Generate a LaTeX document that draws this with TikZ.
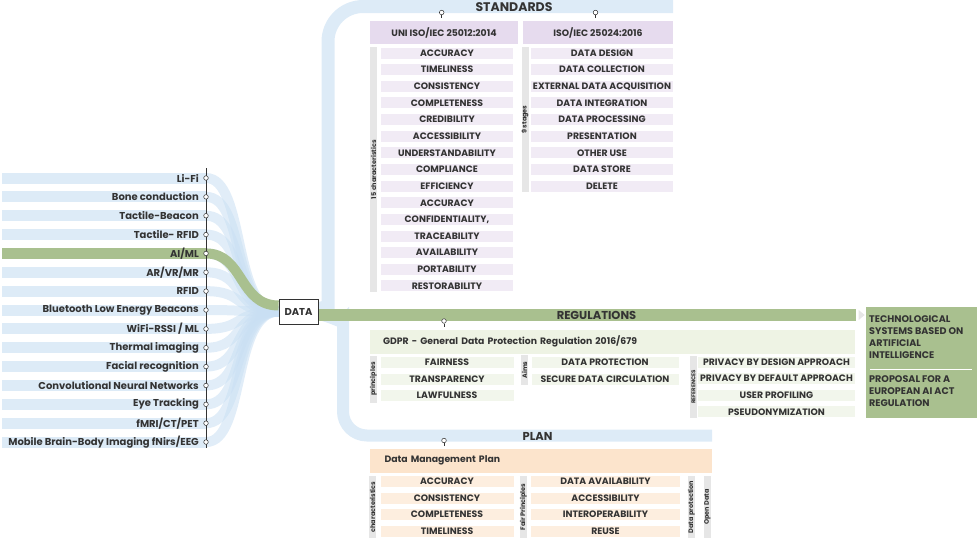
\documentclass[tikz,border=0pt]{standalone}
\usepackage{fontspec}
\setsansfont{Poppins}
\usetikzlibrary{positioning, calc, shapes.geometric, backgrounds}

\definecolor{bandblue}{HTML}{DDEBF7}
\definecolor{flowblue}{HTML}{C9DFF3}
\definecolor{aigreen}{HTML}{A9C08F}
\definecolor{reggreen}{HTML}{EEF3E4}
\definecolor{regitem}{HTML}{F2F6EC}
\definecolor{stdhead}{HTML}{E6DBEE}
\definecolor{stditem}{HTML}{F1EBF5}
\definecolor{planhead}{HTML}{FCE4CC}
\definecolor{planitem}{HTML}{FDEEDF}
\definecolor{bargray}{HTML}{E6E6E6}
\definecolor{inkgray}{HTML}{333333}

\begin{document}
\begin{tikzpicture}[x=1pt, y=-1pt,
    lbl/.style={font=\sffamily\bfseries\fontsize{9.3}{10}\selectfont, text=inkgray},
    srclbl/.style={font=\sffamily\bfseries\fontsize{10}{11}\selectfont, text=inkgray},
    band/.style={fill=rowfill, minimum width=204pt, minimum height=11pt, inner sep=0pt},
    hub/.style={circle, draw=inkgray, fill=white, line width=0.5pt, minimum size=4.6pt, inner sep=0pt},
    flow/.style={draw=flowblue, line width=10pt, opacity=0.55},
    head/.style={lbl, minimum height=23pt, inner sep=0pt},
    cell/.style={lbl, minimum height=11pt, inner sep=0pt},
    sidebar/.style={fill=bargray, rotate=90, inner sep=0pt, minimum height=7pt,
        font=\sffamily\bfseries\fontsize{6.5}{6.5}\selectfont, text=inkgray},
    title/.style={font=\sffamily\bfseries\fontsize{11.5}{12}\selectfont, text=inkgray},
]
    \useasboundingbox (0,0) rectangle (980,542);

    % 1. Sources on the left
    \coordinate (railtop) at (206,168);
    \coordinate (railbot) at (206,448);
    \foreach \txt [count=\i] in {Li-Fi, Bone conduction, Tactile-Beacon, Tactile- RFID, AI/ML,
        AR/VR/MR, RFID, Bluetooth Low Energy Beacons, WiFi-RSSI / ML, Thermal imaging,
        Facial recognition, Convolutional Neural Networks, Eye Tracking, fMRI/CT/PET,
        Mobile Brain-Body Imaging fNirs/EEG} {
        \ifnum\i=5 \colorlet{rowfill}{aigreen}\else \colorlet{rowfill}{bandblue}\fi
        \node[band] (src\i) at (104,{178+(\i-1)*18.86}) {};
        \node[srclbl, anchor=east, inner sep=0pt] (srctxt\i) at (199,{178+(\i-1)*18.86}) {\txt};
    }
    \draw[inkgray, line width=0.6pt] (railtop) -- (railbot);
    \foreach \i in {1,...,15}
        \node[hub] (dot\i) at (206,{178+(\i-1)*18.86}) {};

    % 2. DATA hub
    \node[lbl, font=\sffamily\bfseries\fontsize{10}{11}\selectfont, draw=inkgray, fill=white,
        line width=0.8pt, minimum width=39pt, minimum height=25pt, inner sep=0pt] (data) at (298.5,311.5) {DATA};

    % 3. Branch ends and titles
    \coordinate (stdend) at (673,6.5);
    \coordinate (regend) at (856,315);
    \coordinate (planend) at (712,435.5);
    \node[title, font=\sffamily\bfseries\fontsize{12.5}{13}\selectfont] (stdtitle) at (514,7) {STANDARDS};
    \node[title] (regtitle) at (596.5,315) {REGULATIONS};
    \node[title] (plantitle) at (537.5,436) {PLAN};

    % 4. Flows (behind everything)
    \begin{scope}[on background layer]
        \foreach \i in {1,...,15}
            \draw[flow] (dot\i.center) .. controls +(40,0) and +(-47,0) .. (data.west);
        \draw[draw=aigreen, line width=10pt] (dot5.center) .. controls +(38,0) and +(-40,0) .. ($(data.west)+(0,-6)$);
        \draw[draw=bandblue, line width=13pt, rounded corners=35pt]
            (data.center) .. controls +(25,0) and +(0,20) .. (328,280) -- (328,6.5) -- (stdend);
        \draw[draw=bandblue, line width=12pt, rounded corners=24pt]
            (data.center) .. controls +(28,0) and +(0,-20) .. (343,345) -- (343,435.5) -- (planend);
        \draw[draw=aigreen, line width=12pt] (data.east |- regend) -- (regend);
    \end{scope}

    % 5. STANDARDS
    \node[head, fill=stdhead, minimum width=148pt] (iso1) at (444,32.5) {UNI ISO/IEC 25012:2014};
    \node[head, fill=stdhead, minimum width=150pt] (iso2) at (598,32.5) {ISO/IEC 25024:2016};
    \node[hub] (pin1) at (441.7,12.5) {};
    \node[hub] (pin2) at (595.5,12.5) {};
    \draw[inkgray, line width=0.5pt, shorten >=3pt] (pin1) -- (pin1 |- iso1.north);
    \draw[inkgray, line width=0.5pt, shorten >=3pt] (pin2) -- (pin2 |- iso2.north);
    \node[sidebar, minimum width=245pt] (qbar) at (373.5,169.5) {15 characteristics};
    \foreach \txt [count=\i] in {ACCURACY, TIMELINESS, CONSISTENCY, COMPLETENESS, CREDIBILITY,
        ACCESSIBILITY, UNDERSTANDABILITY, COMPLIANCE, EFFICIENCY, ACCURACY, {CONFIDENTIALITY,},
        TRACEABILITY, AVAILABILITY, PORTABILITY, RESTORABILITY}
        \node[cell, fill=stditem, minimum width=132pt] (q\i) at (447,{53+(\i-1)*16.64}) {\txt};
    \node[sidebar, minimum width=145pt] (sbar) at (525,119.5) {9 stages};
    \foreach \txt [count=\i] in {DATA DESIGN, DATA COLLECTION, EXTERNAL DATA ACQUISITION,
        DATA INTEGRATION, DATA PROCESSING, PRESENTATION, OTHER USE, DATA STORE, DELETE}
        \node[cell, fill=stditem, minimum width=142pt] (s\i) at (602,{53+(\i-1)*16.64}) {\txt};

    % 6. REGULATIONS
    \node[lbl, fill=reggreen, minimum height=24pt, text width=459pt, inner xsep=13pt,
        inner ysep=0pt, align=left] (gdpr) at (612.5,341.5) {GDPR - General Data Protection Regulation 2016/679};
    \node[hub] (pin3) at (444,321) {};
    \draw[inkgray, line width=0.5pt, shorten >=2pt] (pin3) -- (pin3 |- gdpr.north);
    \node[sidebar, minimum width=47pt] (pbar) at (373.5,379) {principles};
    \foreach \txt [count=\i] in {FAIRNESS, TRANSPARENCY, LAWFULNESS}
        \node[cell, fill=regitem, minimum width=133pt] (pr\i) at (447,{362.5+(\i-1)*16.6}) {\txt};
    \node[sidebar, minimum width=30pt] (abar) at (524.5,370) {Aims};
    \foreach \txt [count=\i] in {DATA PROTECTION, SECURE DATA CIRCULATION}
        \node[cell, fill=regitem, minimum width=147pt] (am\i) at (605,{362.5+(\i-1)*16.6}) {\txt};
    \node[sidebar, minimum width=62pt, font=\sffamily\bfseries\fontsize{5.5}{5.5}\selectfont] (rbar) at (693.5,387) {REFERENCES};
    \foreach \txt [count=\i] in {PRIVACY BY DESIGN APPROACH, PRIVACY BY DEFAULT APPROACH,
        USER PROFILING, PSEUDONYMIZATION}
        \node[cell, fill=regitem, minimum width=157pt] (rf\i) at (776.5,{362+(\i-1)*16.6}) {\txt};

    % 7. AI act box
    \node[isosceles triangle, isosceles triangle stretches, fill=bargray, minimum height=6pt,
        minimum width=10pt, inner sep=0pt] (arr) at (861,315) {};
    \node[fill=aigreen, minimum width=111pt, minimum height=111pt, inner sep=0pt] (aiact) at (921,362) {};
    \node[lbl, font=\sffamily\bfseries\fontsize{9.6}{12}\selectfont, anchor=north west,
        align=left, inner sep=0pt] (aitxt1) at (869,315) {TECHNOLOGICAL\\SYSTEMS BASED ON\\ARTIFICIAL\\INTELLIGENCE};
    \coordinate (sepL) at (870,369);
    \coordinate (sepR) at (972,369);
    \draw[white, line width=1pt] (sepL) -- (sepR);
    \node[lbl, font=\sffamily\bfseries\fontsize{9.6}{12}\selectfont, anchor=north west,
        align=left, inner sep=0pt] (aitxt2) at (869,375) {PROPOSAL FOR A\\EUROPEAN AI ACT\\REGULATION};

    % 8. PLAN
    \node[lbl, fill=planhead, minimum height=24pt, text width=312pt, inner xsep=15pt,
        inner ysep=0pt, align=left] (dmp) at (540.5,460.5) {Data Management Plan};
    \node[hub] (pin4) at (444,440.5) {};
    \draw[inkgray, line width=0.5pt, shorten >=2pt] (pin4) -- (pin4 |- dmp.north);
    \node[sidebar, minimum width=62pt] (cbar) at (372.5,507) {characteristics};
    \foreach \txt [count=\i] in {ACCURACY, CONSISTENCY, COMPLETENESS, TIMELINESS}
        \node[cell, fill=planitem, minimum width=133pt] (pc\i) at (447,{481.5+(\i-1)*16.6}) {\txt};
    \node[sidebar, minimum width=62pt] (fbar) at (523.5,507) {Fair Principles};
    \foreach \txt [count=\i] in {DATA AVAILABILITY, ACCESSIBILITY, INTEROPERABILITY, REUSE}
        \node[cell, fill=planitem, minimum width=149pt] (pf\i) at (605.5,{481.5+(\i-1)*16.6}) {\txt};
    \node[sidebar, minimum width=62pt] (dbar) at (691.5,507) {Data protection};
    \node[sidebar, minimum width=62pt] (obar) at (707.5,507) {Open Data};

\end{tikzpicture}
\end{document}
